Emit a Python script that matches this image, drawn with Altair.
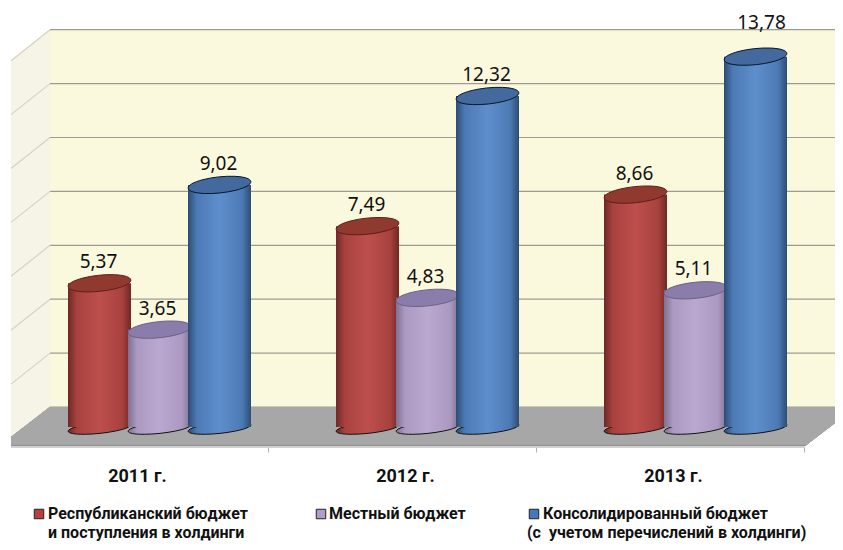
import altair as alt
import pandas as pd

years = ["2011 г.", "2012 г.", "2013 г."]
series = ["Республиканский бюджет", "Местный бюджет", "Консолидированный бюджет"]
republic = [5.37, 7.49, 8.66]
local = [3.65, 4.83, 5.11]
consolidated = [9.02, 12.32, 13.78]
ticks = [0, 2, 4, 6, 8, 10, 12, 14]

legend_rows = [
    ["Республиканский бюджет", "и поступления в холдинги"],
    ["Местный бюджет"],
    ["Консолидированный бюджет", "(с\u00a0 учетом перечислений в холдинги)"],
]

rows = []
for s, vals in zip(series, [republic, local, consolidated]):
    for y, v in zip(years, vals):
        rows.append({"year": y, "series": s, "value": v, "label": f"{v:.2f}".replace(".", ",")})
df = pd.DataFrame(rows)
tick_df = pd.DataFrame({"tick": ticks})

styles = {
    series[0]: dict(edge="#6f2725", soft="#a8423f", mid="#bd4f4c", top="#90392f", line="#5e1f1c", sq="#b5403d"),
    series[1]: dict(edge="#7f7091", soft="#ab99c1", mid="#bba8d0", top="#8b7dab", line="#6c6085", sq="#b09ccb"),
    series[2]: dict(edge="#2d4c73", soft="#4c7ab5", mid="#5e8fcc", top="#44699c", line="#08152b", sq="#4477bb"),
}

x_scale = alt.Scale(domain=years, range=[-8, 796], paddingInner=0, paddingOuter=0)
off_scale = alt.Scale(domain=series, range=[69.5, 249.5], paddingInner=0, paddingOuter=0)
y_scale = alt.Scale(domain=[0, 14], range=[420, 42.7])

BOLD = "Roboto"
x_axis = alt.Axis(title=None, tickBand="extent", domain=False, grid=False,
                  labelAngle=0, tickColor="#b0b0b0", tickSize=5, labelOffset=3,
                  labelPadding=15, labelFont=BOLD, labelFontWeight="bold",
                  labelFontSize=18, labelColor="#111111")
Xbar = alt.X("year:N", scale=x_scale, sort=years, axis=x_axis)
Xpt = alt.X("year:N", scale=x_scale, sort=years, bandPosition=0, axis=x_axis)
Off = alt.XOffset("series:N", scale=off_scale, sort=series)
Y = alt.Y("value:Q", scale=y_scale, axis=None)

CYL = 3969
TOP = "M-0.9945,0.1045 A1,0.254,-6,1,1,0.9945,-0.1045 A1,0.254,-6,1,1,-0.9945,0.1045 Z"
BOT = "M-0.9945,0.1045 A1,0.17,-6,1,1,0.9945,-0.1045 A1,0.17,-6,1,1,-0.9945,0.1045 Z"

def grad(st):
    return alt.Gradient(gradient="linear", x1=0, x2=1, y1=0, y2=0, stops=[
        alt.GradientStop(color=st["edge"], offset=0),
        alt.GradientStop(color=st["soft"], offset=0.14),
        alt.GradientStop(color=st["mid"], offset=0.5),
        alt.GradientStop(color=st["soft"], offset=0.86),
        alt.GradientStop(color=st["edge"], offset=1)])

V0 = dict(x=alt.value(0), y=alt.value(0))
layers = [
    alt.Chart(tick_df).mark_rect(color="#fbf9dd").encode(
        x=alt.value(42), x2=alt.value(827), y=alt.value(22), y2=alt.value(399)),
    alt.Chart(tick_df).mark_point(filled=True, opacity=1, size=4, fill="#f6f4e6", strokeWidth=0,
        shape="M3,53 L42,22 L42,399 L3,429 Z").encode(**V0),
    alt.Chart(tick_df).mark_rule(color="#9c9c94", strokeWidth=1.2, yOffset=-21).encode(
        x=alt.value(42), x2=alt.value(827), y=alt.Y("tick:Q", scale=y_scale, axis=None)),
    alt.Chart(tick_df).mark_rule(color="#d4d3c4", strokeWidth=1.2, yOffset=10, y2Offset=-21).encode(
        x=alt.value(3), x2=alt.value(42), y=alt.Y("tick:Q", scale=y_scale, axis=None), y2=alt.Y2("tick:Q")),
    alt.Chart(tick_df).mark_point(filled=True, opacity=1, size=4, fill="#a7a7a7", strokeWidth=0,
        shape="M42,399 L827,399 L827,415 L797,438 L3,438 L3,429 Z").encode(**V0),
    alt.Chart(tick_df).mark_point(filled=True, opacity=1, size=4, fill="#8f8f8f", strokeWidth=0,
        shape="M3,437 L798,437 L797,438.2 L3,438.2 Z").encode(**V0),
    alt.Chart(tick_df).mark_point(filled=True, opacity=1, size=4, fill="#d2d2d2", strokeWidth=0,
        shape="M3,438.2 L797,438.2 L797,440 L3,440 Z").encode(**V0),
]

for s in series:
    st = styles[s]
    d = df[df.series == s]
    layers.append(alt.Chart(d).mark_point(filled=True, opacity=1, size=CYL, shape=BOT, fill=grad(st),
                                          stroke="#111111", strokeWidth=1).encode(
        x=Xpt, xOffset=Off, y=alt.Y("zero:Q", scale=y_scale, axis=None)).transform_calculate(zero="0"))
    layers.append(alt.Chart(d).mark_bar(size=63, fill=grad(st), y2Offset=-1).encode(
        x=Xbar, xOffset=Off, y=Y, y2=alt.Y2(datum=0)))
    layers.append(alt.Chart(d).mark_point(filled=True, opacity=1, size=CYL, shape=TOP, fill=st["top"],
                                          stroke=st["line"], strokeWidth=1).encode(
        x=Xpt, xOffset=Off, y=Y))

lab = dict(font="Noto Sans", fontSize=19, color="#111111", align="center", baseline="middle")
layers.append(alt.Chart(df[df.series == series[1]]).mark_text(dy=-21, dx=-2, **lab).encode(
    x=Xpt, xOffset=Off, y=Y, text="label:N"))
layers.append(alt.Chart(df[df.series != series[1]]).transform_filter("datum.value < 13").mark_text(dy=-21, dx=-1, **lab).encode(
    x=Xpt, xOffset=Off, y=Y, text="label:N"))
layers.append(alt.Chart(df).transform_filter("datum.value >= 13").mark_text(dy=-34, dx=6, **lab).encode(
    x=Xpt, xOffset=Off, y=Y, text="label:N"))

leg_x = [36, 318, 531]
text_x = [40, 321, 535]
wrap_x = [40, None, 519]
row_y = [506, 525]
for s, rows_, qx, tx, wx in zip(series, legend_rows, leg_x, text_x, wrap_x):
    st = styles[s]
    layers.append(alt.Chart(pd.DataFrame({"s": [s]})).mark_point(
        shape="square", filled=True, opacity=1, size=90, fill=st["sq"], stroke="#222222", strokeWidth=1).encode(
        x=alt.value(qx - 5), y=alt.value(row_y[0])))
    for i, t in enumerate(rows_):
        layers.append(alt.Chart(pd.DataFrame({"t": [t]})).mark_text(
            font=BOLD, fontWeight="bold", fontSize=16, color="#111111", align="left", baseline="middle").encode(
            x=alt.value(tx if i == 0 else wx), y=alt.value(row_y[i]), text="t:N"))

chart = alt.layer(*layers).properties(
    width=827, height=439,
    padding={"left": 0, "top": 0, "right": 0, "bottom": 95},
    autosize=alt.AutoSizeParams(type="none"),
).resolve_scale(x="shared", y="shared").configure_view(stroke=None)

chart.save("out.html", embed_options={"renderer": "svg", "actions": False})
